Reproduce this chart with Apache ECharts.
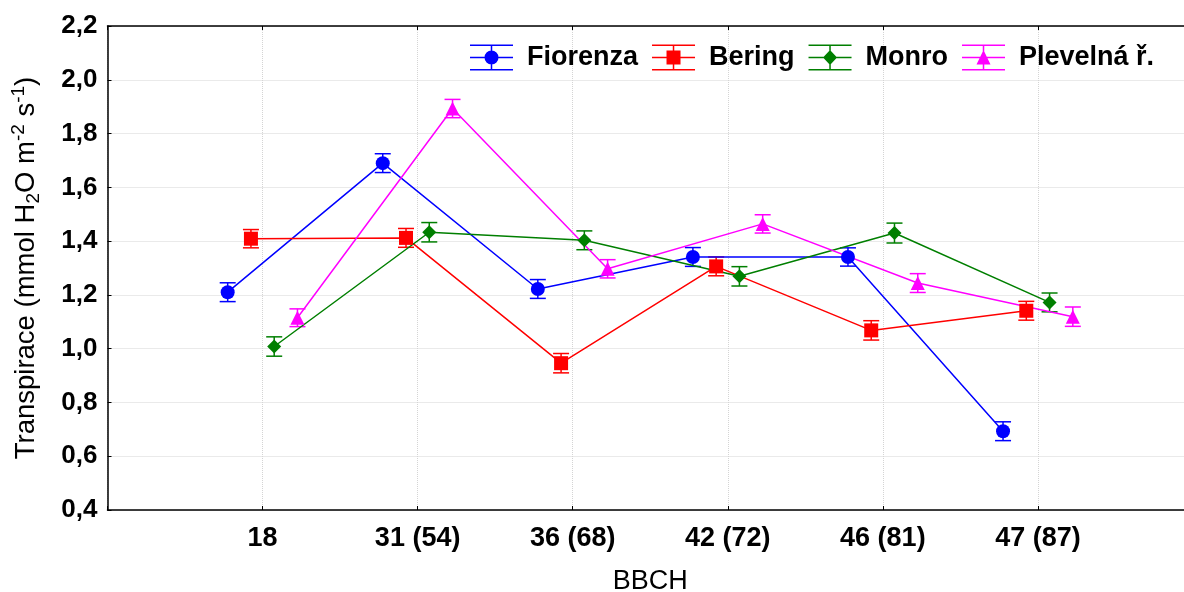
<!DOCTYPE html>
<html>
<head>
<meta charset="utf-8">
<title>Transpirace – BBCH</title>
<script src="https://cdn.jsdelivr.net/npm/echarts@6/dist/echarts.min.js"></script>
<style>
  html, body { margin: 0; padding: 0; background: #fff; }
  #chart { width: 1184px; height: 592px; }
</style>
</head>
<body>
<div id="chart"></div>
<script>
// Growth stages (BBCH) on the horizontal axis
const stages = ['18', '31 (54)', '36 (68)', '42 (72)', '46 (81)', '47 (87)'];

// Mean transpiration per variety (mmol H2O m-2 s-1)
const fiorenza = [1.21, 1.69, 1.222, 1.341, 1.341, 0.693];
const bering   = [1.409, 1.412, 0.946, 1.306, 1.068, 1.141];
const monro    = [1.008, 1.433, 1.403, 1.269, 1.430, 1.172];
const plevelna = [1.115, 1.893, 1.297, 1.464, 1.244, 1.119];

// Standard errors
const fiorenzaErr = [0.035, 0.035, 0.035, 0.035, 0.034, 0.035];
const beringErr   = [0.034, 0.035, 0.036, 0.035, 0.036, 0.035];
const monroErr    = [0.036, 0.036, 0.035, 0.036, 0.037, 0.035];
const plevelnaErr = [0.033, 0.034, 0.034, 0.034, 0.035, 0.036];

const names  = ['Fiorenza', 'Bering', 'Monro', 'Plevelná ř.'];
const values = [fiorenza, bering, monro, plevelna];
const errors = [fiorenzaErr, beringErr, monroErr, plevelnaErr];
const colors = ['#0000ff', '#ff0000', '#007f00', '#ff00ff'];
const symbols = ['circle', 'rect', 'diamond', 'triangle'];

// Legend icons: error-bar glyph (caps, stem, centre line) with the marker
const bars = 'M0 0h43v1.5h-43Z M0 24.5h43v1.5h-43Z M0 12.25h43v1.5h-43Z M20.75 0h1.5v26h-1.5Z ';
const iconMarks = [
  'M28.5 13A7 7 0 1 1 14.5 13A7 7 0 1 1 28.5 13Z',
  'M14.5 6h14v14h-14Z',
  'M21.5 5.5L28.5 13L21.5 20.5L14.5 13Z',
  'M21.5 5.5L28.5 20L14.5 20Z'
];

const FONT = '"Liberation Sans", Arial, sans-serif';
const DODGE = 0.15; // horizontal spacing between the varieties at one stage

const series = [];
names.forEach((name, s) => {
  const shift = (s - 1.5) * DODGE;
  const pts = values[s].map((v, i) => [i + 1 + shift, v, errors[s][i]]);
  series.push({
    name: name + ' SE',
    type: 'custom',
    xAxisIndex: 0,
    z: 2,
    silent: true,
    encode: { x: 0, y: 1 },
    data: pts,
    renderItem(params, api) {
      const x = api.value(0), y = api.value(1), e = api.value(2);
      const hi = api.coord([x, y + e]);
      const lo = api.coord([x, y - e]);
      const hw = 8;
      const st = { stroke: colors[s], lineWidth: 1.5 };
      return {
        type: 'group',
        children: [
          { type: 'line', shape: { x1: hi[0], y1: hi[1], x2: lo[0], y2: lo[1] }, style: st },
          { type: 'line', shape: { x1: hi[0] - hw, y1: hi[1], x2: hi[0] + hw, y2: hi[1] }, style: st },
          { type: 'line', shape: { x1: lo[0] - hw, y1: lo[1], x2: lo[0] + hw, y2: lo[1] }, style: st }
        ]
      };
    }
  });
  series.push({
    name: name,
    type: 'line',
    xAxisIndex: 0,
    z: 3,
    data: pts.map(p => [p[0], p[1]]),
    symbol: symbols[s],
    symbolSize: 14,
    showAllSymbol: true,
    lineStyle: { color: colors[s], width: 1.5 },
    itemStyle: { color: colors[s], borderWidth: 0 },
    emphasis: { disabled: true },
    animation: false
  });
});

const chart = echarts.init(document.getElementById('chart'), null, { renderer: 'canvas' });
chart.setOption({
  animation: false,
  backgroundColor: '#ffffff',
  grid: { left: 107.5, top: 26, right: -9, bottom: 82, containLabel: false, outerBoundsMode: 'none' },
  legend: {
    left: 465,
    top: 39,
    itemWidth: 43,
    itemHeight: 26,
    itemGap: 14,
    selectedMode: false,
    itemStyle: { borderWidth: 0 },
    textStyle: { fontFamily: FONT, fontSize: 27, fontWeight: 'bold', color: '#000', padding: [0, 0, 0, 9] },
    data: names.map((n, s) => ({ name: n, icon: 'path://' + bars + iconMarks[s] }))
  },
  xAxis: [
    {
      type: 'value',
      min: 0,
      max: 7,
      interval: 1,
      name: 'BBCH',
      nameLocation: 'middle',
      nameGap: 58,
      nameTextStyle: { fontFamily: FONT, fontSize: 27, color: '#000' },
      axisLine: { show: true, onZero: false, lineStyle: { color: '#000', width: 1.5 } },
      axisTick: { show: true, inside: true, length: 4, lineStyle: { color: '#000', width: 1 } },
      axisLabel: {
        fontFamily: FONT, fontSize: 27, fontWeight: 'bold', color: '#000', margin: 15,
        formatter: v => stages[v - 1] || ''
      },
      splitLine: { show: true, lineStyle: { color: '#d4d4d4', type: 'dotted', width: 1 } }
    },
    {
      type: 'value',
      position: 'top',
      min: 0,
      max: 7,
      interval: 1,
      axisLine: { show: true, lineStyle: { color: '#000', width: 1.5 } },
      axisTick: { show: true, inside: true, length: 4, lineStyle: { color: '#000', width: 1 } },
      axisLabel: { show: false },
      splitLine: { show: false }
    }
  ],
  yAxis: {
    type: 'value',
    min: 0.4,
    max: 2.2,
    interval: 0.2,
    name: 'Transpirace (mmol H{sub|2}O m{sup|-2} s{sup|-1})',
    nameLocation: 'middle',
    nameRotate: 90,
    nameGap: 64,
    nameTextStyle: {
      fontFamily: FONT, fontSize: 27.5, color: '#000', lineHeight: 34,
      rich: {
        sub: { fontFamily: FONT, fontSize: 19, color: '#000', verticalAlign: 'bottom' },
        sup: { fontFamily: FONT, fontSize: 19, color: '#000', verticalAlign: 'top' }
      }
    },
    axisLine: { show: true, lineStyle: { color: '#000', width: 1.5 } },
    axisTick: { show: true, inside: true, length: 4, lineStyle: { color: '#000', width: 1 } },
    axisLabel: {
      fontFamily: FONT, fontSize: 26, fontWeight: 'bold', color: '#000', margin: 10,
      formatter: v => v.toFixed(1).replace('.', ',')
    },
    splitLine: { show: true, lineStyle: { color: '#d4d4d4', type: 'dotted', width: 1 } }
  },
  series: series
});
</script>
</body>
</html>
